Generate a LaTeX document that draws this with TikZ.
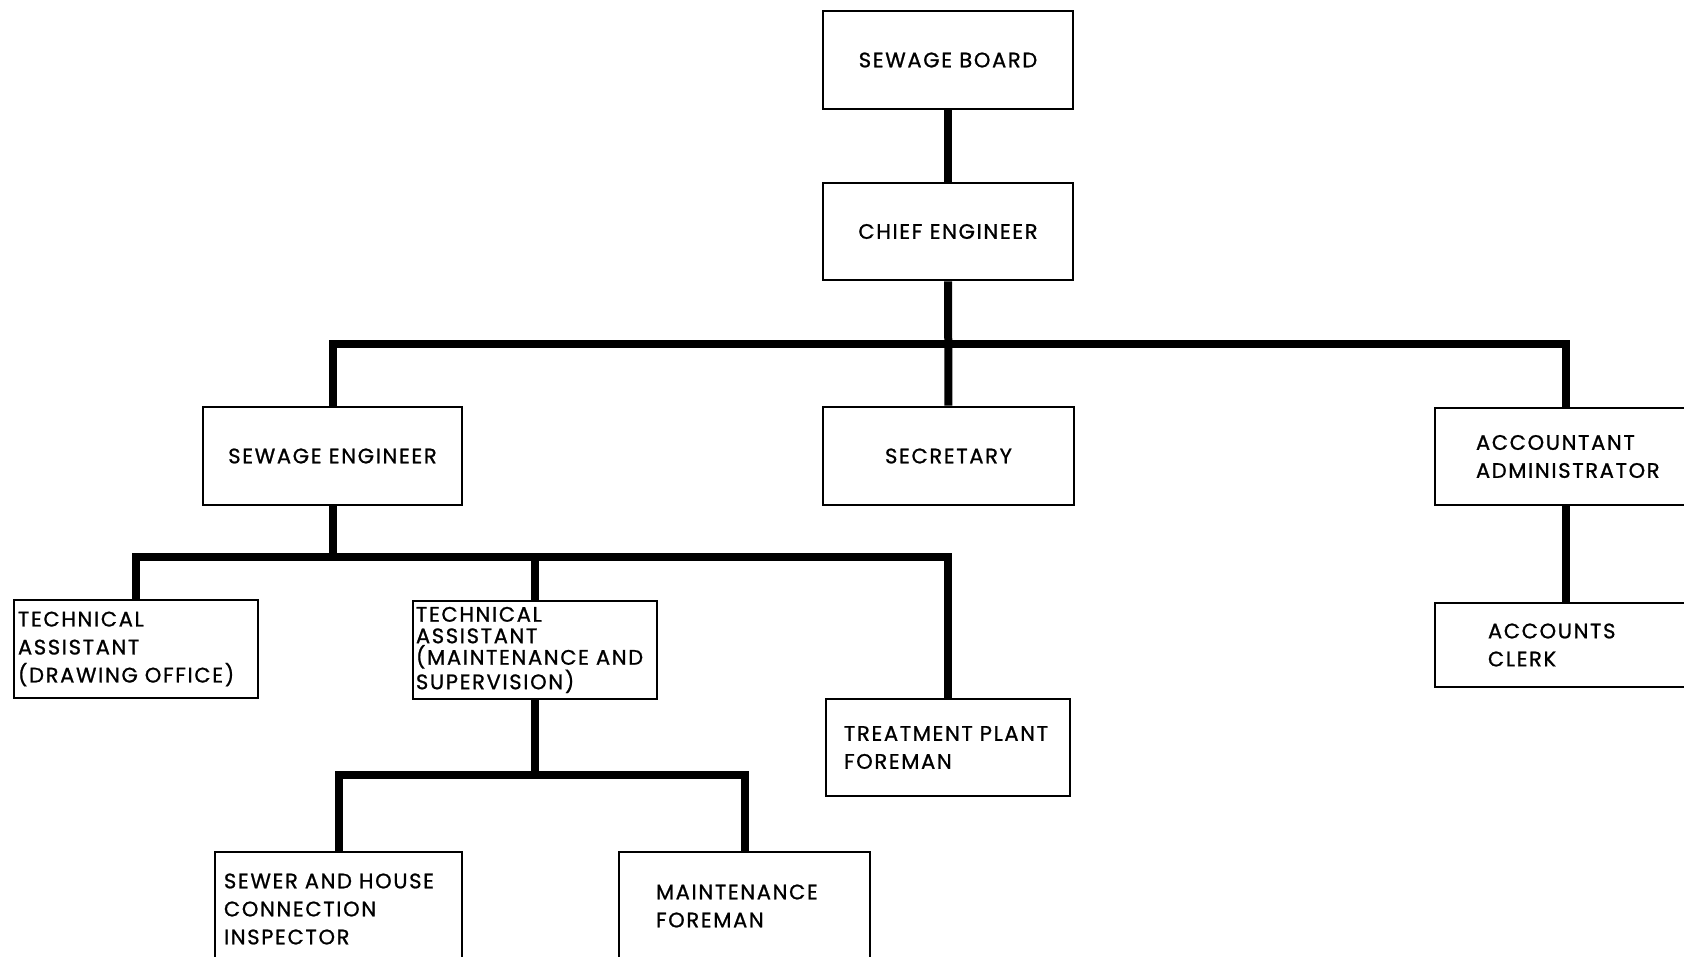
\documentclass[tikz,border=0pt]{standalone}
\usepackage{fontspec}
\setmainfont{Poppins}[LetterSpace=8,FakeBold=1]
\begin{document}
\begin{tikzpicture}[x=1pt,y=-1pt,
  box/.style={draw=black, fill=white, line width=2.6pt, rectangle, inner ysep=0pt,
    font=\fontsize{21}{28}\selectfont},
  cbox/.style={box, inner xsep=0pt, align=center},
  lbox/.style={box, align=left},
  conn/.style={draw=black, line width=8pt, line join=miter}]
\useasboundingbox (0,0) rectangle (1684,956);
\clip (0,0) rectangle (1684,956);
\fill[white] (0,0) rectangle (1684,956);

% boxes
\node[cbox, minimum width=250pt, minimum height=98pt] (board) at (948,60) {SEWAGE BOARD};
\node[cbox, minimum width=250pt, minimum height=97pt] (chief) at (948,231.5) {CHIEF ENGINEER};
\node[cbox, minimum width=259pt, minimum height=98pt] (se) at (332.5,456) {SEWAGE ENGINEER};
\node[cbox, minimum width=251pt, minimum height=98pt] (sec) at (948.5,456) {SECRETARY};
\node[lbox, inner xsep=41pt, text width=180pt, minimum height=97pt] (acc) at (1566,456.5) {ACCOUNTANT\\ADMINISTRATOR};
\node[lbox, inner xsep=53pt, text width=156pt, minimum height=84pt] (clerk) at (1566,645) {ACCOUNTS\\CLERK};
\node[lbox, inner xsep=4pt, text width=236pt, minimum height=98pt] (tado) at (136,649) {TECHNICAL\\ASSISTANT\\(DRAWING OFFICE)};
\node[lbox, inner xsep=3pt, text width=238pt, minimum height=98pt,
  font=\fontsize{21}{21.5}\selectfont] (tam) at (535,650) {TECHNICAL\\ASSISTANT\\(MAINTENANCE AND\\SUPERVISION)};
\node[lbox, inner xsep=18pt, text width=208pt, minimum height=97pt] (tpf) at (948,747.5) {TREATMENT PLANT\\FOREMAN};
\node[lbox, inner xsep=9pt, text width=229pt, minimum height=114pt] (sewer) at (338.5,909) {SEWER AND HOUSE\\CONNECTION\\INSPECTOR};
\node[lbox, inner xsep=37pt, text width=177pt, minimum height=108pt] (mf) at (744.5,906) {MAINTENANCE\\FOREMAN};

% junction levels
\coordinate (b1) at (948,344);
\coordinate (b2) at (0,557);
\coordinate (b3) at (0,775);

% connectors
\draw[conn] (board) -- (chief);
\draw[conn] (chief) -- (sec);
\draw[conn] (se.north) -- (se.north |- b1) -- (acc.north |- b1) -- (acc.north);
\draw[conn] (acc) -- (clerk);
\draw[conn] (se.south) -- (se.south |- b2);
\draw[conn] (tado.north) -- (tado.north |- b2) -- (tpf.north |- b2) -- (tpf.north);
\draw[conn] (tam.north) -- (tam.north |- b2);
\draw[conn] (tam.south) -- (tam.south |- b3);
\draw[conn] (sewer.north) -- (sewer.north |- b3) -- (mf.north |- b3) -- (mf.north);
\end{tikzpicture}
\end{document}
